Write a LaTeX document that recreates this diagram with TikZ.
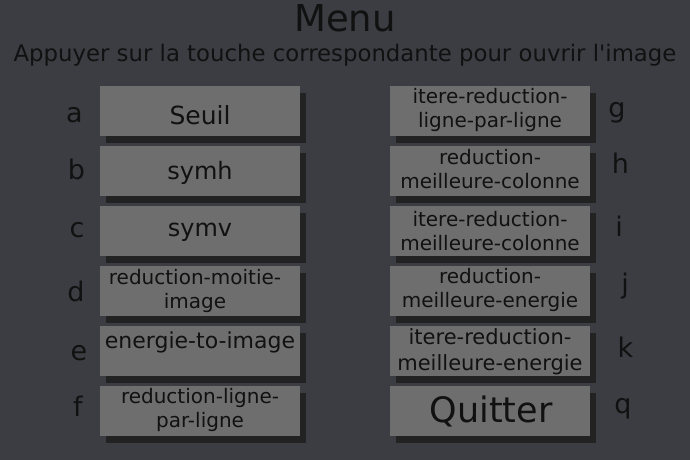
\documentclass[tikz,border=0pt]{standalone}
\usepackage{fontspec}
\setmainfont{DejaVu Sans}[Ligatures=TeXOff]
\usetikzlibrary{shadows}
\definecolor{fond}{HTML}{3C3D43}
\definecolor{gris}{HTML}{6E6E6E}
\definecolor{ombre}{HTML}{222222}
\definecolor{encre}{HTML}{111111}
\tikzset{
  bouton/.style={fill=gris,minimum width=200pt,minimum height=50pt,inner sep=0pt,anchor=north west,
    drop shadow={shadow xshift=6pt,shadow yshift=-7pt,fill=ombre,opacity=1}},
  etiq/.style={anchor=base,inner sep=0pt,text=encre,align=center,font=\fontsize{20}{23.5}\selectfont},
  touche/.style={anchor=base,inner sep=0pt,text=encre,font=\fontsize{27}{30}\selectfont}
}

\begin{document}
\begin{tikzpicture}[x=1pt,y=-1pt]
  \fill[fond] (0,0) rectangle (690,460);
  \useasboundingbox (0,0) rectangle (690,460);

  % titre
  \node[anchor=base,inner sep=0pt,text=encre,font=\fontsize{37}{40}\selectfont] (titre) at (345,32) {Menu};
  \node[anchor=base,inner sep=0pt,text=encre,font=\fontsize{22.8}{26}\selectfont] (consigne) at (345,61.5)
    {Appuyer sur la touche correspondante pour ouvrir l'image};

  % boutons
  \foreach \n/\x/\y in {ba/100/86,bb/100/146,bc/100/206,bd/100/266,be/100/326,bf/100/386,
                        bg/390/86,bh/390/146,bi/390/206,bj/390/266,bk/390/326,bq/390/386}
    \node[bouton] (\n) at (\x,\y) {};

  % textes des boutons (base = derniere ligne)
  \node[etiq,font=\fontsize{25}{28}\selectfont] (tseuil) at (200,124.3) {Seuil};
  \node[etiq,font=\fontsize{24}{28}\selectfont] (tsymh) at (200,179) {symh};
  \node[etiq,font=\fontsize{24}{28}\selectfont] (tsymv) at (200,236.5) {symv};
  \node[etiq] (tmoitie) at (195,308) {reduction-moitie-\\image};
  \node[etiq,font=\fontsize{22}{26}\selectfont] (tenergie) at (200,348) {energie-to-image};
  \node[etiq] (tligne) at (200,427) {reduction-ligne-\\par-ligne};
  \node[etiq] (titligne) at (490,127) {itere-reduction-\\ligne-par-ligne};
  \node[etiq] (tcolonne) at (490,188) {reduction-\\meilleure-colonne};
  \node[etiq] (titcolonne) at (490,250) {itere-reduction-\\meilleure-colonne};
  \node[etiq] (tmenergie) at (490,307) {reduction-\\meilleure-energie};
  \node[etiq,font=\fontsize{21}{25.5}\selectfont] (titenergie) at (490,370) {itere-reduction-\\meilleure-energie};
  \node[etiq,font=\fontsize{35}{40}\selectfont] (tquitter) at (491,422) {Quitter};

  % touches
  \foreach \n/\t/\x/\y in {ka/a/74.5/122,kb/b/76.5/179,kc/c/77/237,kd/d/76/301,ke/e/79/360,kf/f/78/416,
                           kg/g/617/117,kh/h/620.5/173,ki/i/619/236,kj/j/625/293,kk/k/625.5/357,kq/q/623/413}
    \node[touche] (\n) at (\x,\y) {\t};
\end{tikzpicture}
\end{document}
